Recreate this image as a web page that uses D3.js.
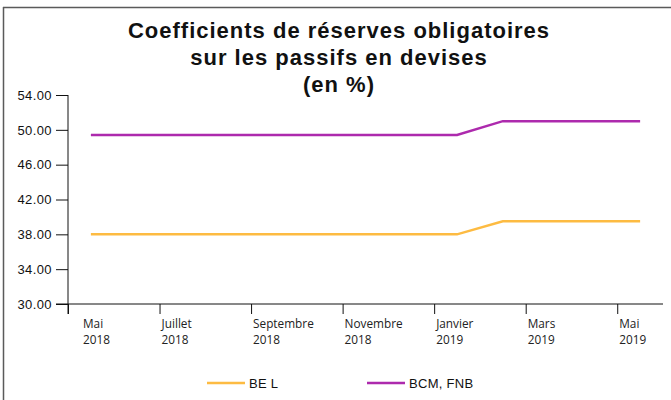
<!DOCTYPE html>
<html>
<head>
<meta charset="utf-8">
<script src="https://cdn.jsdelivr.net/npm/d3@7"></script>
<style>
  body { margin: 0; background: #fff; }
  .title { font-family: "Liberation Sans", Arial, sans-serif; font-weight: bold; font-size: 22px; letter-spacing: 1px; fill: #111; }
  .yAxis text { font-family: "Liberation Sans", Arial, sans-serif; font-size: 13px; letter-spacing: 0.4px; fill: #111; }
  .xLabel { font-family: "Open Sans", sans-serif; font-size: 11.8px; fill: #222; }
  .legText { font-family: "Liberation Sans", Arial, sans-serif; font-size: 13px; letter-spacing: 0.3px; fill: #111; }
</style>
</head>
<body>
<div id="chart"></div>
<script>
//Data
var months = ["Mai 2018", "Juin 2018", "Juillet 2018", "Août 2018", "Septembre 2018", "Octobre 2018",
  "Novembre 2018", "Décembre 2018", "Janvier 2019", "Février 2019", "Mars 2019", "Avril 2019", "Mai 2019"];
var bel = [38, 38, 38, 38, 38, 38, 38, 38, 38, 39.5, 39.5, 39.5, 39.5];
var bcm = [49.4, 49.4, 49.4, 49.4, 49.4, 49.4, 49.4, 49.4, 49.4, 51, 51, 51, 51];
var yTicks = [30, 34, 38, 42, 46, 50, 54];
var seriesNames = ["BE L", "BCM, FNB"];
var titleLines = ["Coefficients de réserves obligatoires", "sur les passifs en devises", "(en %)"];

//Size of the page
var width = 671;
var height = 400;

var svg = d3
  .select("#chart")
  .append("svg")
  .attr("width", width)
  .attr("height", height);

//Frame (top and left edges only)
svg.append("line")
  .attr("x1", 3).attr("y1", 7.5).attr("x2", width).attr("y2", 7.5)
  .attr("stroke", "#5a5a5a").attr("stroke-width", 1.5);
svg.append("line")
  .attr("x1", 3.5).attr("y1", 7).attr("x2", 3.5).attr("y2", height)
  .attr("stroke", "#5a5a5a").attr("stroke-width", 1.5);

//Title
var title = svg.append("text")
  .attr("class", "title")
  .attr("text-anchor", "middle");
titleLines.forEach(function(t, i) {
	title.append("tspan")
	  .attr("x", 339)
	  .attr("y", 38 + i * 27)
	  .text(t);
});

//Scales
var xScale = d3.scaleLinear()
  .domain([-0.5, months.length - 0.5])
  .range([68, 663]);
var yScale = d3.scaleLinear()
  .domain([30, 54])
  .range([304, 95]);

//Y axis
var yAxis = svg.append("g")
  .attr("class", "yAxis")
  .attr("transform", "translate(68,0)")
  .call(d3.axisLeft(yScale)
    .tickValues(yTicks)
    .tickSize(12)
    .tickPadding(4)
    .tickSizeOuter(0)
    .tickFormat(d3.format(".2f")));
yAxis.select(".domain").remove();
yAxis.selectAll("line").attr("stroke", "#111");

//X axis, ticks between the months
var xTickVals = d3.range(-0.5, months.length - 1, 2);
var xAxis = svg.append("g")
  .attr("class", "xAxis")
  .attr("transform", "translate(0," + yScale(30) + ")")
  .call(d3.axisBottom(xScale)
    .tickValues(xTickVals)
    .tickSize(10)
    .tickFormat(""));
xAxis.select(".domain").remove();
xAxis.selectAll("line").attr("stroke", "#111");

//Axis lines, each running a little past the other
svg.append("line")
  .attr("x1", 56).attr("x2", xScale.range()[1])
  .attr("y1", yScale(30)).attr("y2", yScale(30))
  .attr("stroke", "#111");
svg.append("line")
  .attr("x1", xScale.range()[0]).attr("x2", xScale.range()[0])
  .attr("y1", yScale(54)).attr("y2", yScale(30) + 10)
  .attr("stroke", "#111");

//X labels in two rows
xTickVals.forEach(function(v, i) {
	var parts = months[v + 0.5].split(" ");
	var lab = svg.append("text")
	  .attr("class", "xLabel");
	parts.forEach(function(p, j) {
		lab.append("tspan")
		  .attr("x", xScale(v) + (i === 0 ? 15 : 2))
		  .attr("y", 328 + j * 16)
		  .text(p);
	});
});

//Lines
var colors = ["#fdbb42", "#ad2aad"];
var line = d3.line()
  .x(function(d, i) { return xScale(i); })
  .y(function(d) { return yScale(d); });

[bel, bcm].forEach(function(s, k) {
	svg.append("path")
	  .datum(s)
	  .attr("fill", "none")
	  .attr("stroke", colors[k])
	  .attr("stroke-width", 2.5)
	  .attr("d", line);
});

//Legend
var legX = [207, 367];
seriesNames.forEach(function(n, k) {
	svg.append("line")
	  .attr("x1", legX[k]).attr("x2", legX[k] + 38)
	  .attr("y1", 383).attr("y2", 383)
	  .attr("stroke", colors[k])
	  .attr("stroke-width", 2.5);
	svg.append("text")
	  .attr("class", "legText")
	  .attr("x", legX[k] + 42)
	  .attr("y", 387.5)
	  .text(n);
});
</script>
</body>
</html>
